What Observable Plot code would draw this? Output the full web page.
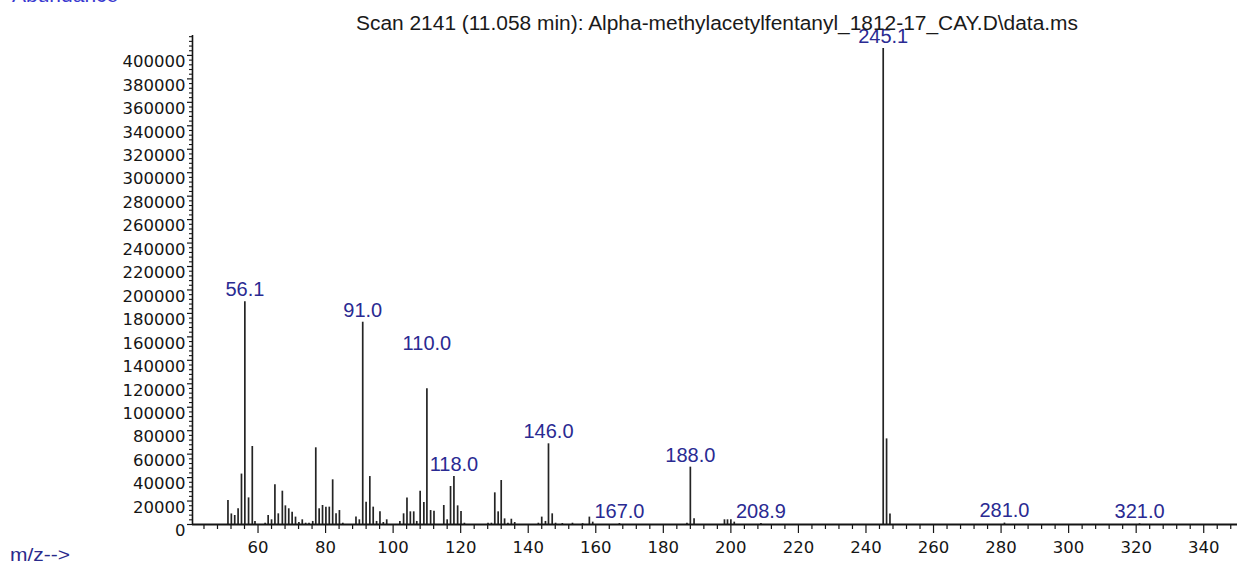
<!DOCTYPE html>
<html>
<head>
<meta charset="utf-8">
<script src="https://cdn.jsdelivr.net/npm/d3@7"></script>
<script src="https://cdn.jsdelivr.net/npm/@observablehq/plot@0.6"></script>
<style>
  html, body { margin: 0; padding: 0; background: #fff; overflow: hidden; }
  #wrap { position: relative; width: 1238px; height: 565px; }
  .over { position: absolute; white-space: nowrap; line-height: 1; transform-origin: 0 0; }
</style>
</head>
<body>
<div id="wrap">
  <div id="chart"></div>
  <div id="abund" class="over" style="left:12px; top:-17px; font: 21px 'Liberation Sans'; color:#3a3ad0;">Abundance</div>
  <div id="title" class="over" style="left:356px; top:12px; font: 20px 'Liberation Sans'; color:#1a1a1a;">Scan 2141 (11.058 min): Alpha-methylacetylfentanyl_1812-17_CAY.D\data.ms</div>
  <div id="mzlab" class="over" style="left:10px; top:545px; font: 18px 'Liberation Sans'; color:#2a2a8c;">m/z--&gt;</div>
</div>
<script>
// ---- data ----
const mz = [
  51.1, 52.1, 53.1, 54.1, 55.1, 56.1, 57.2, 58.3, 59.1,
  62.1, 63.0, 64.0, 65.0, 66.0, 67.2, 68.1, 69.1, 70.1, 71.1, 72.1, 73.1, 74.1, 75.1, 76.2,
  77.1, 78.1, 79.1, 80.1, 81.1, 82.1, 83.1, 84.1, 85.1,
  89.0, 90.0, 91.0, 92.0, 93.1, 94.1, 95.1, 96.1, 97.1, 98.1,
  102.0, 103.1, 104.1, 105.1, 106.1, 107.0, 108.0, 109.1, 110.0, 111.1, 112.1,
  115.0, 116.0, 117.0, 118.0, 119.1, 120.1, 121.1,
  128.1, 129.1, 130.1, 131.1, 132.0, 133.0, 134.0, 135.0, 136.0,
  143.0, 144.0, 145.1, 146.0, 147.1, 148.1, 150.1, 153.1, 156.1, 158.1, 159.1,
  167.0, 187.0, 188.0, 189.1,
  198.1, 199.0, 200.0, 201.0, 208.9,
  245.1, 246.1, 247.1, 281.0, 321.0
];
const abundance = [
  20500, 9000, 7700, 13400, 43000, 190000, 22700, 66500, 2600,
  1100, 7700, 4000, 33800, 9100, 28400, 15900, 13400, 10500, 6300, 1700, 4000, 1100, 1100, 2600,
  65400, 13400, 16200, 14800, 14800, 38100, 9100, 11900, 1100,
  6300, 4000, 172500, 19000, 40900, 14800, 2600, 10800, 1700, 4000,
  2600, 9100, 22700, 10800, 10800, 2600, 28400, 18800, 115700, 11900, 11400,
  16200, 4000, 32400, 40900, 15900, 11100, 1100,
  1100, 1100, 27000, 10800, 37500, 4800, 1100, 4500, 1700,
  1100, 6300, 2600, 68800, 9100, 1100, 800, 1100, 700, 6300, 2000,
  800, 1000, 48900, 4800,
  4000, 4000, 4000, 2000, 800,
  406000, 73000, 9000, 1200, 600
];
const peakLabels = ["56.1", "91.0", "110.0", "118.0", "146.0", "167.0", "188.0", "208.9", "245.1", "281.0", "321.0"];
const xTickLabels = [60, 80, 100, 120, 140, 160, 180, 200, 220, 240, 260, 280, 300, 320, 340];
const yTickLabels = [0, 20000, 40000, 60000, 80000, 100000, 120000, 140000, 160000, 180000, 200000,
  220000, 240000, 260000, 280000, 300000, 320000, 340000, 360000, 380000, 400000];

// ---- build ----
const xMin = 40.6, xMax = 350, yMax = 417000;
const peaks = mz.map((m, i) => ({mz: m, abundance: abundance[i]}));
const labeled = peakLabels.map(l => ({label: l, mz: +l, abundance: abundance[mz.indexOf(+l)]}));
const raised = new Set(["110.0"]);
const xMinor = d3.range(44, xMax, 4).filter(v => v % 20 !== 0);
const yMinor = d3.range(0, yMax, 4000).filter(v => v % 20000 !== 0);
const ink = "#151515";
const labelBlue = "#2a2a92";

const chart = Plot.plot({
  width: 1238,
  height: 565,
  marginLeft: 192,
  marginRight: 1,
  marginTop: 35,
  marginBottom: 41,
  style: {fontFamily: "'DejaVu Sans'", fontSize: "16.5px", color: ink, background: "#fff"},
  x: {domain: [xMin, xMax], axis: null, label: null},
  y: {domain: [0, yMax], axis: null, label: null},
  marks: [
    Plot.ruleX(peaks, {x: "mz", y1: 0, y2: "abundance", stroke: "#242424", strokeWidth: 1.7}),
    // y axis
    Plot.ruleX([xMin], {stroke: ink, strokeWidth: 1.6}),
    Plot.axisY(yMinor, {tickSize: 3, tickFormat: () => "", label: null, strokeWidth: 1.1}),
    Plot.axisY(yTickLabels, {tickSize: 5, tickFormat: () => "", label: null, strokeWidth: 1.2}),
    Plot.axisY(yTickLabels, {tickSize: 0, tickPadding: 7, dy: 6.5, tickFormat: d3.format("d"), label: null}),
    // x axis
    Plot.ruleY([0], {stroke: ink, strokeWidth: 1.8}),
    Plot.axisX(xMinor, {tickSize: 5, tickFormat: () => "", label: null, strokeWidth: 1.2}),
    Plot.axisX(xTickLabels, {tickSize: 9, tickPadding: 8, tickFormat: d3.format("d"), label: null, strokeWidth: 1.2}),
    // peak labels
    Plot.text(labeled.filter(d => !raised.has(d.label)), {
      x: "mz", y: "abundance", text: "label", dy: -12,
      fill: labelBlue, fontFamily: "Liberation Sans", fontSize: 20
    }),
    Plot.text(labeled.filter(d => raised.has(d.label)), {
      x: "mz", y: "abundance", text: "label", dy: -45,
      fill: labelBlue, fontFamily: "Liberation Sans", fontSize: 20
    })
  ]
});
document.getElementById("chart").appendChild(chart);

// fit overlay texts to the reference's widths
function fitWidth(id, target) {
  const el = document.getElementById(id);
  const w = el.getBoundingClientRect().width;
  el.style.transform = `scaleX(${target / w})`;
}
fitWidth("title", 722);
fitWidth("mzlab", 60);
</script>
</body>
</html>
